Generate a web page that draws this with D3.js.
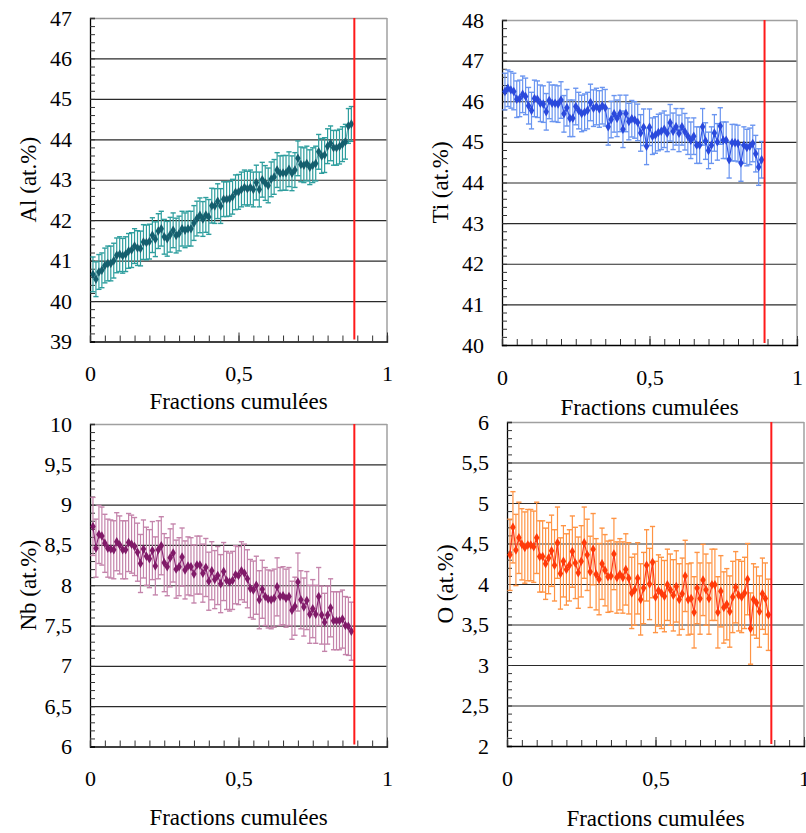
<!DOCTYPE html>
<html><head><meta charset="utf-8">
<script src="https://cdn.jsdelivr.net/npm/d3@7/dist/d3.min.js"></script>
<style>
html,body{margin:0;padding:0;background:#fff;}
svg text{font-family:"Liberation Serif","Times New Roman",serif;fill:#000;}
</style></head>
<body>
<svg id="c" width="806" height="833"></svg>
<script>
// Cumulative fractions (x) shared by all four profiles
const fractions = [0.01,0.02,0.03,0.04,0.05,0.06,0.07,0.08,0.09,0.10,0.11,0.12,0.13,0.14,0.15,0.16,0.17,0.18,0.19,0.20,
0.21,0.22,0.23,0.24,0.25,0.26,0.27,0.28,0.29,0.30,0.31,0.32,0.33,0.34,0.35,0.36,0.37,0.38,0.39,0.40,
0.41,0.42,0.43,0.44,0.45,0.46,0.47,0.48,0.49,0.50,0.51,0.52,0.53,0.54,0.55,0.56,0.57,0.58,0.59,0.60,
0.61,0.62,0.63,0.64,0.65,0.66,0.67,0.68,0.69,0.70,0.71,0.72,0.73,0.74,0.75,0.76,0.77,0.78,0.79,0.80,
0.81,0.82,0.83,0.84,0.85,0.86,0.87,0.88];

const alValues = [40.66,40.54,40.72,40.76,40.88,40.93,40.93,41.0,41.13,41.16,41.12,41.16,41.24,41.26,41.36,41.31,41.3,41.46,41.45,41.47,
41.63,41.53,41.73,41.79,41.59,41.54,41.64,41.75,41.62,41.67,41.79,41.75,41.79,41.79,41.93,42.04,42.12,42.03,42.13,42.08,
42.36,42.35,42.47,42.35,42.52,42.52,42.53,42.58,42.69,42.7,42.76,42.81,42.78,42.81,42.76,42.93,42.76,43.0,42.92,42.86,
43.01,43.07,43.24,43.16,43.17,43.17,43.26,43.16,43.24,43.53,43.38,43.36,43.4,43.31,43.36,43.4,43.69,43.59,43.61,43.83,
43.9,43.79,43.79,43.82,43.88,43.94,44.33,44.38];
const alError = 0.43;

const tiValues = [46.24,46.32,46.28,46.24,46.05,46.07,46.17,46.12,45.89,45.77,46.07,46.05,45.95,45.93,45.74,46.02,45.95,45.95,45.93,46.03,
45.69,45.84,45.58,45.58,45.87,45.77,45.70,45.73,45.77,45.97,45.83,45.87,45.81,45.89,45.84,45.37,45.55,45.69,45.58,45.70,
45.31,45.70,45.50,45.57,45.54,45.48,45.22,45.36,44.89,45.36,45.14,45.17,45.23,45.26,45.31,45.21,45.47,45.26,45.37,45.21,
45.37,45.25,45.14,45.04,45.14,44.92,44.92,45.37,45.02,44.79,44.92,45.22,45.0,45.39,45.04,45.04,44.56,44.98,44.98,44.96,
44.48,44.92,44.86,44.89,44.96,44.71,44.38,44.56];
const tiError = 0.45;

const nbValues = [8.73,8.46,8.63,8.61,8.52,8.46,8.45,8.44,8.54,8.50,8.44,8.44,8.53,8.51,8.48,8.41,8.27,8.45,8.36,8.33,
8.43,8.24,8.44,8.49,8.28,8.23,8.34,8.40,8.20,8.23,8.35,8.19,8.24,8.23,8.14,8.25,8.25,8.15,8.22,8.05,
8.18,8.07,8.12,8.02,8.17,8.06,8.04,8.06,8.13,8.12,8.18,8.15,8.08,7.96,7.94,8.0,7.82,7.95,7.86,7.83,
7.82,7.84,7.98,7.86,7.87,7.84,7.86,7.69,7.74,8.04,7.82,7.73,7.81,7.64,7.71,7.64,7.86,7.63,7.54,7.63,
7.72,7.56,7.56,7.56,7.58,7.50,7.49,7.43];
const nbError = 0.36;

const oValues = [4.36,4.70,4.42,4.57,4.49,4.45,4.48,4.48,4.46,4.57,4.34,4.34,4.25,4.32,4.41,4.23,4.51,4.13,4.28,4.18,
4.23,4.40,4.26,4.14,4.28,4.51,4.36,4.15,4.43,4.12,4.06,4.25,4.17,4.09,4.10,4.37,4.08,4.12,4.08,4.18,
4.07,3.89,3.93,4.07,3.81,3.95,4.23,4.0,4.27,3.84,3.92,3.89,3.85,3.99,3.93,3.86,3.97,3.81,3.88,4.10,
3.81,3.82,3.65,3.95,3.82,4.05,3.93,3.82,3.99,3.99,3.65,3.91,3.71,3.75,3.66,3.84,3.96,3.86,3.84,3.89,
4.06,3.45,3.81,3.77,3.66,3.88,3.82,3.62];
const oError = 0.44;

const xTickLabels = ["0","0,5","1"];
const interfaceFraction = 0.89;
const xTitle = "Fractions cumulées";

const panels = [
  {label:"Al (at.%)", values:alValues, err:alError, ymin:39, ymax:47, major:1, minor:0.2,
   box:{l:90,t:18,r:387,b:341.5}, mk:"#155f6e", bar:"#2e9e9e", line:"#6aa3ad", titleDy:60},
  {label:"Ti (at.%)", values:tiValues, err:tiError, ymin:40, ymax:48, major:1, minor:0.2,
   box:{l:502,t:20,r:797,b:345}, mk:"#2a49dc", bar:"#6a95f0", line:"#3358e6", titleDy:62},
  {label:"Nb (at.%)", values:nbValues, err:nbError, ymin:6, ymax:10, major:0.5, minor:0.1,
   box:{l:90,t:424,r:387,b:746.5}, mk:"#801a68", bar:"#c484ab", line:"#8e2a78", titleDy:71},
  {label:"O (at.%)", values:oValues, err:oError, ymin:2, ymax:6, major:0.5, minor:0.1,
   box:{l:507,t:422,r:804,b:746}, mk:"#ff3a0a", bar:"#ff9444", line:"#ff3a1a", titleDy:72}
];

const svg = d3.select("#c");
const fmt = d => String(+d.toFixed(2)).replace(".", ",");

function rng(a,b,s){const out=[];const n=Math.round((b-a)/s);for(let i=0;i<=n;i++)out.push(+(a+i*s).toFixed(4));return out;}

panels.forEach(p=>{
  const {l,t,r,b} = p.box;
  const W = r-l, H = b-t;
  const g = svg.append("g").attr("transform",`translate(${l},${t})`);
  const x = d3.scaleLinear().domain([0,1]).range([0,W]);
  const y = d3.scaleLinear().domain([p.ymin,p.ymax]).range([H,0]);

  const majors = rng(p.ymin,p.ymax,p.major);
  const minors = rng(p.ymin,p.ymax,p.minor);

  // gridlines
  g.append("g").attr("class","grid")
    .call(d3.axisLeft(y).tickValues(majors.slice(1,-1)).tickSize(-W).tickFormat(""))
    .call(s=>s.select(".domain").remove())
    .call(s=>s.selectAll("line").attr("stroke","#2a2a2a").attr("stroke-width",1.2));

  // frame top / right
  g.append("line").attr("x1",0).attr("x2",W).attr("y1",0.5).attr("y2",0.5).attr("stroke","#a0a0a0").attr("stroke-width",1.5);
  g.append("line").attr("x1",W).attr("x2",W).attr("y1",0).attr("y2",H).attr("stroke","#a0a0a0").attr("stroke-width",1.5);

  // y minor ticks
  g.append("g")
    .call(d3.axisLeft(y).tickValues(minors).tickSize(-5).tickFormat(""))
    .call(s=>s.select(".domain").attr("stroke","#000").attr("stroke-width",1.3))
    .call(s=>s.selectAll(".tick line").attr("stroke","#333"));
  // y labels
  g.append("g")
    .call(d3.axisLeft(y).tickValues(majors).tickSize(0).tickPadding(18).tickFormat(fmt))
    .call(s=>s.select(".domain").remove())
    .call(s=>s.selectAll("text").attr("font-size",22).attr("font-family","Liberation Serif").attr("fill","#000"));

  // x minor ticks
  g.append("g").attr("transform",`translate(0,${H})`)
    .call(d3.axisBottom(x).tickValues(rng(0,1,0.05)).tickSize(-6).tickFormat(""))
    .call(s=>s.select(".domain").attr("stroke","#000").attr("stroke-width",1.3))
    .call(s=>s.selectAll(".tick line").attr("stroke","#333"));
  g.append("g").attr("transform",`translate(0,${H})`)
    .call(d3.axisBottom(x).tickValues([0,0.5,1]).tickSize(-9).tickPadding(24).tickFormat((d,i)=>xTickLabels[i]))
    .call(s=>s.select(".domain").remove())
    .call(s=>s.selectAll(".tick line").attr("stroke","#333"))
    .call(s=>s.selectAll("text").attr("font-size",22).attr("font-family","Liberation Serif").attr("fill","#000"));

  // x title
  g.append("text").attr("x",W/2).attr("y",H+p.titleDy).attr("text-anchor","middle")
    .attr("dominant-baseline","central").attr("font-size",23).text(xTitle);
  // y title
  g.append("text").attr("transform",`translate(${-62},${H/2}) rotate(-90)`)
    .attr("text-anchor","middle").attr("dominant-baseline","central").attr("font-size",23).text(p.label);

  const data = p.values.map((v,i)=>({x:fractions[i],v}));

  // error bars
  const eb = g.append("g");
  data.forEach(d=>{
    const cx = x(d.x), y1 = y(d.v+p.err), y2 = y(d.v-p.err);
    eb.append("line").attr("x1",cx).attr("x2",cx).attr("y1",y1).attr("y2",y2).attr("stroke",p.bar).attr("stroke-width",1.2);
    eb.append("line").attr("x1",cx-2.6).attr("x2",cx+2.6).attr("y1",y1).attr("y2",y1).attr("stroke",p.bar).attr("stroke-width",1.4);
    eb.append("line").attr("x1",cx-2.6).attr("x2",cx+2.6).attr("y1",y2).attr("y2",y2).attr("stroke",p.bar).attr("stroke-width",1.4);
  });

  // line
  g.append("path").datum(data)
    .attr("d",d3.line().x(d=>x(d.x)).y(d=>y(d.v)))
    .attr("fill","none").attr("stroke",p.line).attr("stroke-width",1.2);
  // markers
  g.append("g").selectAll("path").data(data).join("path")
    .attr("transform",d=>`translate(${x(d.x)},${y(d.v)})`)
    .attr("d",d3.symbol(d3.symbolDiamond,26))
    .attr("fill",p.mk);

  // red interface line
  g.append("line").attr("x1",x(interfaceFraction)).attr("x2",x(interfaceFraction))
    .attr("y1",0).attr("y2",H-2).attr("stroke","#ff1a1a").attr("stroke-width",2);
});
</script>
</body></html>
